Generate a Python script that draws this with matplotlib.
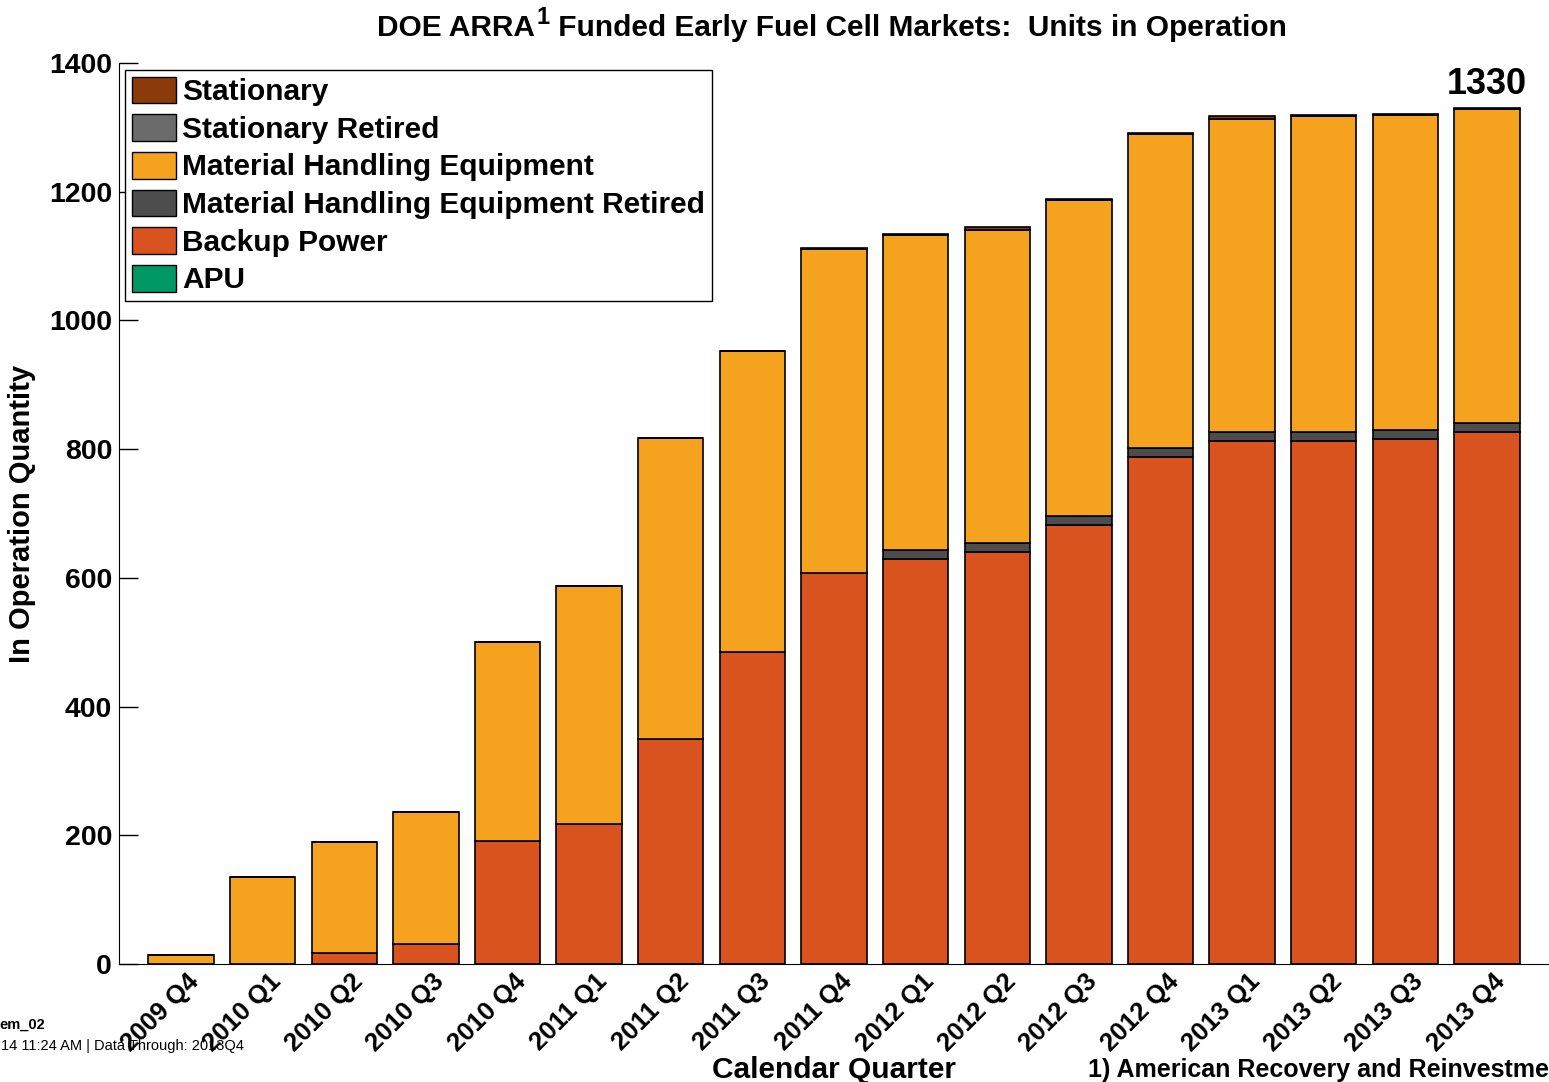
import matplotlib
matplotlib.use("Agg")
import matplotlib.pyplot as plt
import matplotlib.transforms as mtransforms
import numpy as np
from matplotlib.patches import Patch

plt.rcParams['font.family'] = ['Liberation Sans', 'DejaVu Sans']
plt.rcParams['font.weight'] = 'bold'

quarters = ["2009 Q4", "2010 Q1", "2010 Q2", "2010 Q3", "2010 Q4", "2011 Q1",
            "2011 Q2", "2011 Q3", "2011 Q4", "2012 Q1", "2012 Q2", "2012 Q3",
            "2012 Q4", "2013 Q1", "2013 Q2", "2013 Q3", "2013 Q4"]
apu = [0, 0, 0, 0, 0, 0, 0, 0, 0, 0, 0, 0, 0, 0, 0, 0, 0]
backup_power = [0, 0, 17, 31, 191, 218, 350, 485, 607, 630, 640, 682, 788, 812, 813, 815, 826]
mhe_retired = [0, 0, 0, 0, 0, 0, 0, 0, 0, 14, 14, 14, 13, 14, 14, 14, 14]
mhe = [14, 135, 173, 205, 309, 369, 467, 467, 504, 488, 487, 491, 489, 487, 490, 490, 488]
stationary_retired = [0, 0, 0, 0, 0, 0, 0, 0, 0, 0, 0, 0, 0, 0, 0, 0, 0]
stationary = [0, 0, 0, 0, 0, 0, 0, 0, 1, 2, 4, 2, 2, 4, 2, 2, 2]
yticks = [0, 200, 400, 600, 800, 1000, 1200, 1400]

series = [
    ("APU", apu, "#009966"),
    ("Backup Power", backup_power, "#D9531E"),
    ("Material Handling Equipment Retired", mhe_retired, "#4D4D4D"),
    ("Material Handling Equipment", mhe, "#F5A31E"),
    ("Stationary Retired", stationary_retired, "#6B6B6B"),
    ("Stationary", stationary, "#8B3A0A"),
]

W, H = 1549, 1082
fig = plt.figure(figsize=(W / 100, H / 100), dpi=100)
left = 119 / W
bottom = 1 - 964 / H
top = 1 - 63 / H
ax = fig.add_axes([left, bottom, 1.0 - left, top - bottom])

x = np.arange(len(quarters))
base = np.zeros(len(quarters))
for name, vals, col in series:
    v = np.array(vals, dtype=float)
    ax.bar(x, v, 0.8, bottom=base, color=col, edgecolor='black', linewidth=1.2, label=name)
    base += v

ax.set_xlim(-0.76, 16.76)
ax.set_ylim(0, 1400)
ax.set_yticks(yticks)
ax.set_yticklabels([str(t) for t in yticks], fontsize=20.5, fontweight='bold')
ax.tick_params(axis='y', direction='in', length=14, width=1, pad=5)
ax.tick_params(axis='x', length=0, pad=4)
ax.set_xticks(x)
ax.set_xticklabels(quarters, rotation=45, ha='right', va='top', rotation_mode='anchor',
                   fontsize=18.5, fontweight='bold')
offset = mtransforms.ScaledTranslation(6 / 100, 0, fig.dpi_scale_trans)
for lab in ax.get_xticklabels():
    lab.set_transform(lab.get_transform() + offset)
ax.spines['top'].set_visible(False)
ax.spines['right'].set_visible(False)

ax.set_ylabel("In Operation Quantity", fontsize=21, fontweight='bold', labelpad=9)
ax.set_xlabel("Calendar Quarter", fontsize=21.5, fontweight='bold', labelpad=0)

ax.text(x[-1], base[-1] + 10, f"{int(round(base[-1]))}", ha='center', va='bottom',
        fontsize=26, fontweight='bold')

# Title composed of pieces so the superscript is bold and raised
title_y = 1 - 36 / H
t1 = fig.text(0, title_y, "DOE ARRA", ha='left', va='baseline', fontsize=21.5, fontweight='bold')
t2 = fig.text(0, title_y, "1", ha='left', va='baseline', fontsize=17, fontweight='bold')
t3 = fig.text(0, title_y, " Funded Early Fuel Cell Markets:  Units in Operation",
              ha='left', va='baseline', fontsize=21.5, fontweight='bold')
fig.canvas.draw()
r = fig.canvas.get_renderer()
w1 = t1.get_window_extent(r).width
w2 = t2.get_window_extent(r).width
w3 = t3.get_window_extent(r).width
total = w1 + w2 + 2 + w3
x0 = 832 - total / 2
t1.set_x(x0 / W)
t2.set_position(((x0 + w1 + 1) / W, title_y + 12 / H))
t3.set_x((x0 + w1 + w2 + 2) / W)

handles = [Patch(facecolor=c, edgecolor='black', linewidth=1) for _, _, c in series]
labels = [n for n, _, _ in series]
order = [5, 4, 3, 2, 1, 0]
leg = ax.legend([handles[i] for i in order], [labels[i] for i in order],
                loc='upper left', bbox_to_anchor=(6 / (W * (1 - left)), 1 - 7 / (964 - 63)),
                prop={'weight': 'bold', 'size': 21.5},
                frameon=True, fancybox=False, edgecolor='black', framealpha=1,
                handlelength=1.5, handleheight=1.0, handletextpad=0.2,
                labelspacing=0.27, borderpad=0.22, borderaxespad=0)
leg.get_frame().set_linewidth(1.0)

fig.text(1088 / W, 1 - 1070 / H, "1) American Recovery and Reinvestment Act",
         ha='left', va='center', fontsize=18, fontweight='bold')
fig.text(45 / W, 1 - 1025 / H, "em_02", ha='right', va='center', fontsize=10.5, fontweight='bold')
fig.text(244 / W, 1 - 1046 / H, "14 11:24 AM | Data Through: 2013Q4", ha='right', va='center',
         fontsize=10.5, fontweight='normal')

fig.savefig("out.png", dpi=100)
